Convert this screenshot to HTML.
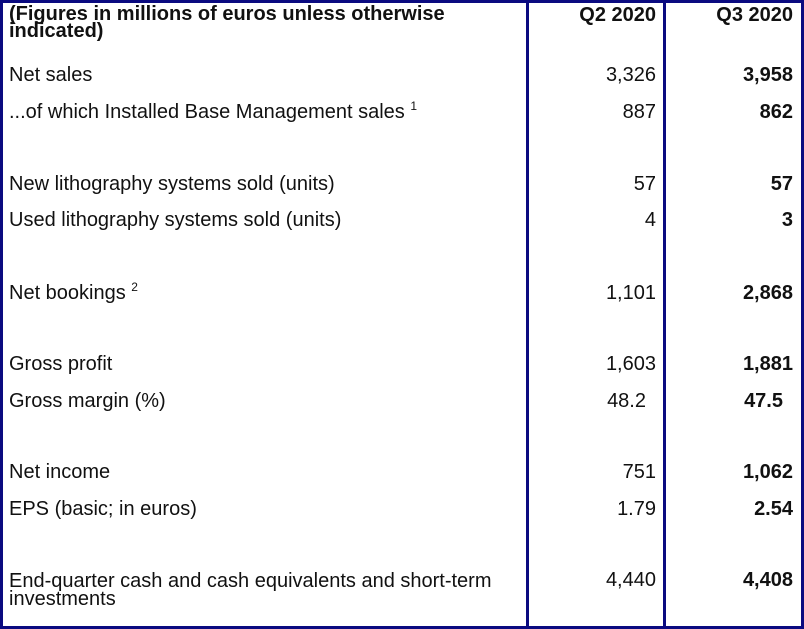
<!DOCTYPE html>
<html><head><meta charset="utf-8"><style>
body{margin:0;width:804px;height:629px;background:#fff;position:relative;overflow:hidden;font-family:"Liberation Sans",Arial,sans-serif;color:#111;}
.b{position:absolute;background:#0a0a80;}
.t{position:absolute;font-size:20px;line-height:22px;white-space:nowrap;}
.l{left:9px;}
.c2{right:148px;text-align:right;}
.c3{right:11px;text-align:right;font-weight:bold;}
.h{font-weight:bold;}
sup{font-size:12px;vertical-align:8px;line-height:0;}
</style></head><body>
<div class="b" style="left:0;top:0;width:804px;height:3px"></div>
<div class="b" style="left:0;top:626px;width:804px;height:3px"></div>
<div class="b" style="left:0;top:0;width:3px;height:629px"></div>
<div class="b" style="left:801px;top:0;width:3px;height:629px"></div>
<div class="b" style="left:526px;top:0;width:3px;height:629px"></div>
<div class="b" style="left:663px;top:0;width:3px;height:629px"></div>

<div class="t l h" style="top:6px;line-height:17px">(Figures in millions of euros unless otherwise<br>indicated)</div>
<div class="t c2 h" style="top:4px">Q2 2020</div>
<div class="t c3" style="top:4px">Q3 2020</div>

<div class="t l" style="top:64px">Net sales</div>
<div class="t c2" style="top:64px">3,326</div>
<div class="t c3" style="top:64px">3,958</div>

<div class="t l" style="top:101px">...of which Installed Base Management sales <sup>1</sup></div>
<div class="t c2" style="top:101px">887</div>
<div class="t c3" style="top:101px">862</div>

<div class="t l" style="top:173px">New lithography systems sold (units)</div>
<div class="t c2" style="top:173px">57</div>
<div class="t c3" style="top:173px">57</div>

<div class="t l" style="top:209px">Used lithography systems sold (units)</div>
<div class="t c2" style="top:209px">4</div>
<div class="t c3" style="top:209px">3</div>

<div class="t l" style="top:282px">Net bookings <sup>2</sup></div>
<div class="t c2" style="top:282px">1,101</div>
<div class="t c3" style="top:282px">2,868</div>

<div class="t l" style="top:353px">Gross profit</div>
<div class="t c2" style="top:353px">1,603</div>
<div class="t c3" style="top:353px">1,881</div>

<div class="t l" style="top:390px">Gross margin (%)</div>
<div class="t c2" style="top:390px;right:158px">48.2</div>
<div class="t c3" style="top:390px;right:21px">47.5</div>

<div class="t l" style="top:461px">Net income</div>
<div class="t c2" style="top:461px">751</div>
<div class="t c3" style="top:461px">1,062</div>

<div class="t l" style="top:498px">EPS (basic; in euros)</div>
<div class="t c2" style="top:498px">1.79</div>
<div class="t c3" style="top:498px">2.54</div>

<div class="t l" style="top:572px;line-height:18px">End-quarter cash and cash equivalents and short-term<br>investments</div>
<div class="t c2" style="top:569px">4,440</div>
<div class="t c3" style="top:569px">4,408</div>
</body></html>
